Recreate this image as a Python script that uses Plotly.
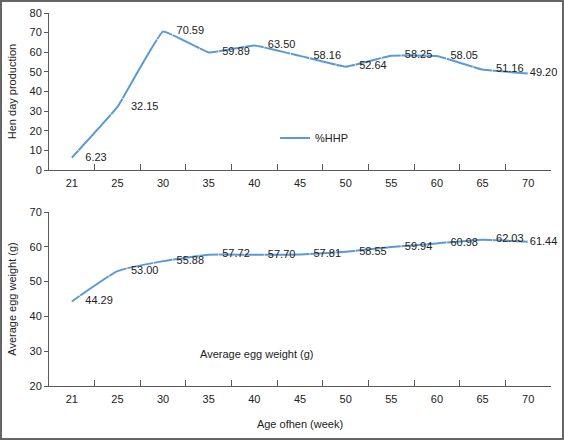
import plotly.graph_objects as go
from plotly.subplots import make_subplots

ages = ["21", "25", "30", "35", "40", "45", "50", "55", "60", "65", "70"]
hhp = [6.23, 32.15, 70.59, 59.89, 63.50, 58.16, 52.64, 58.25, 58.05, 51.16, 49.20]
egg_weight = [44.29, 53.00, 55.88, 57.72, 57.70, 57.81, 58.55, 59.94, 60.98, 62.03, 61.44]
hhp_labels = [f"{v:.2f}" for v in hhp]
egg_labels = [f"{v:.2f}" for v in egg_weight]

FONT = "Liberation Sans, Arial, sans-serif"
TXT = "#222222"
LINE = "#5B9BD5"
AX = "#595959"

W, H = 564, 440
ml, mr, mt, mb = 49, 13, 13, 54
pw, ph = W - ml - mr, H - mt - mb

def py(px):
    return (H - mb - px) / ph

def pxx(px):
    return (px - ml) / pw

# label offset spacer sizes (last label sits right at its point, as in the reference)
offset_sizes = [20] * (len(ages) - 1) + [1]

fig = make_subplots(rows=2, cols=1)

fig.add_trace(go.Scatter(
    x=ages, y=hhp, mode="lines", name="%HHP",
    line=dict(color=LINE, width=2, shape="spline", smoothing=0.25),
    showlegend=True), row=1, col=1)
fig.add_trace(go.Scatter(
    x=ages, y=hhp, mode="markers+text", text=hhp_labels, textposition="middle right",
    marker=dict(size=offset_sizes, color="rgba(0,0,0,0)"), cliponaxis=False, hoverinfo="skip",
    textfont=dict(family=FONT, size=11, color=TXT), showlegend=False), row=1, col=1)

fig.add_trace(go.Scatter(
    x=ages, y=egg_weight, mode="lines", name="Average egg weight (g)",
    line=dict(color=LINE, width=2, shape="spline", smoothing=0.4),
    showlegend=False), row=2, col=1)
fig.add_trace(go.Scatter(
    x=ages, y=egg_weight, mode="markers+text", text=egg_labels, textposition="middle right",
    marker=dict(size=offset_sizes, color="rgba(0,0,0,0)"), cliponaxis=False, hoverinfo="skip",
    textfont=dict(family=FONT, size=11, color=TXT), showlegend=False), row=2, col=1)

annotations = [dict(text="Average egg weight (g)", xref="paper", yref="paper",
                    x=pxx(198), y=py(354), xanchor="left", yanchor="middle", showarrow=False,
                    font=dict(family=FONT, size=11, color=TXT))]

xcommon = dict(type="category", range=[-0.5, 10.5], showline=True, linecolor=AX, linewidth=1,
               ticks="inside", tickson="boundaries", ticklen=6, tickcolor=AX, ticklabelstandoff=3,
               tickfont=dict(family=FONT, size=11, color=TXT), showgrid=False, zeroline=False)
ycommon = dict(showline=True, linecolor=AX, linewidth=1, ticks="outside", ticklen=4, tickcolor=AX,
               tickfont=dict(family=FONT, size=11, color=TXT), showgrid=False, zeroline=False,
               dtick=10)

fig.update_layout(
    xaxis=dict(xcommon, domain=[0, 1]),
    xaxis2=dict(xcommon, domain=[0, 1],
                title=dict(text="Age ofhen (week)", font=dict(family=FONT, size=11, color=TXT), standoff=16)),
    yaxis=dict(ycommon, range=[0, 80], domain=[py(170), py(13)],
               title=dict(text="Hen day production", font=dict(family=FONT, size=11, color=TXT), standoff=10)),
    yaxis2=dict(ycommon, range=[20, 70], domain=[py(386), py(212)],
                title=dict(text="Average egg weight (g)", font=dict(family=FONT, size=11, color=TXT), standoff=10)),
    width=W, height=H,
    margin=dict(l=ml, r=mr, t=mt, b=mb, autoexpand=False),
    paper_bgcolor="white", plot_bgcolor="white",
    font=dict(family=FONT, size=11, color=TXT),
    legend=dict(x=pxx(275), y=py(138), xanchor="left", yanchor="middle",
                bgcolor="rgba(0,0,0,0)", font=dict(family=FONT, size=11, color=TXT)),
    annotations=annotations,
    shapes=[dict(type="rect", xref="paper", yref="paper",
                 x0=pxx(1), x1=pxx(563), y0=py(439), y1=py(1),
                 line=dict(color="#666666", width=2), fillcolor="rgba(0,0,0,0)", layer="below")],
)

fig.write_html("out.html")
